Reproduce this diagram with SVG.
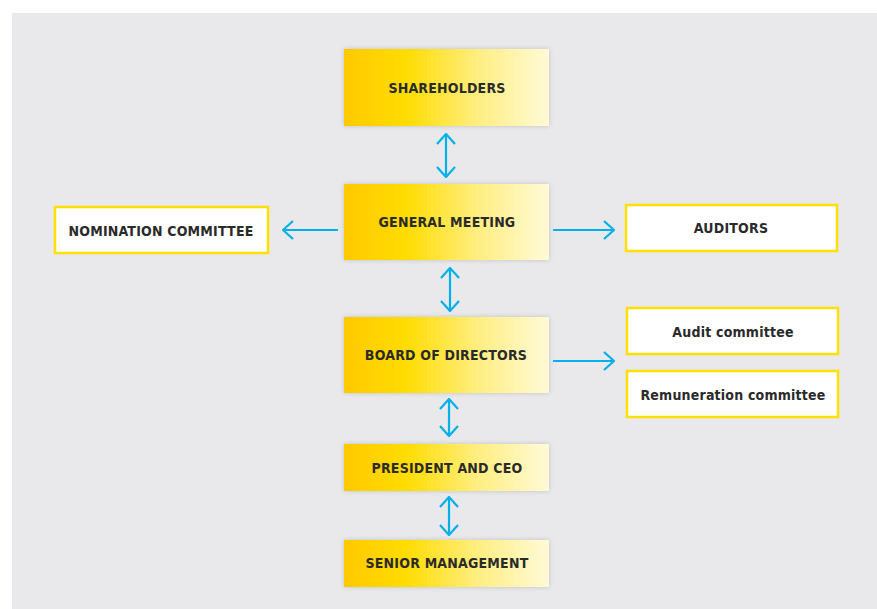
<svg xmlns="http://www.w3.org/2000/svg" width="877" height="609" viewBox="0 0 877 609">
<defs>
<linearGradient id="g" x1="0" y1="0" x2="1" y2="0">
<stop offset="0" stop-color="#ffc900"/>
<stop offset="0.3" stop-color="#ffdc00"/>
<stop offset="0.65" stop-color="#ffee80"/>
<stop offset="1" stop-color="#fffad8"/>
</linearGradient>
<filter id="sh" x="-10%" y="-20%" width="120%" height="140%">
<feGaussianBlur in="SourceAlpha" stdDeviation="2.5"/>
<feComponentTransfer><feFuncA type="linear" slope="0.18"/></feComponentTransfer>
<feMerge><feMergeNode/><feMergeNode in="SourceGraphic"/></feMerge>
</filter>
<marker id="ah" viewBox="0 0 12 20" refX="11" refY="10" markerWidth="12" markerHeight="20" markerUnits="userSpaceOnUse" orient="auto-start-reverse">
<path d="M1 1 L11 10 L1 19" fill="none" stroke="#00b0eb" stroke-width="2.2"/>
</marker>
</defs>
<style>
.y{fill:url(#g);filter:url(#sh)}
.w{fill:#fff;stroke:#ffe000;stroke-width:2.5}
text{font-family:"DejaVu Sans Condensed","DejaVu Sans",sans-serif;font-weight:bold;font-size:14px;fill:#2a2a2a;text-anchor:middle;dominant-baseline:central;letter-spacing:0.2px}
.c line{stroke:#00b0eb;stroke-width:2.2}
</style>
<rect width="877" height="609" fill="#fff"/>
<rect x="12" y="13" width="865" height="596" fill="#e9e9eb"/>
<g id="shareholders"><rect class="y" x="344" y="49" width="205" height="77"/><text x="447" y="88">SHAREHOLDERS</text></g>
<g id="general-meeting"><rect class="y" x="344" y="184" width="205" height="76"/><text x="447" y="222">GENERAL MEETING</text></g>
<g id="board"><rect class="y" x="344" y="317" width="205" height="76"/><text x="446" y="355">BOARD OF DIRECTORS</text></g>
<g id="president"><rect class="y" x="344" y="444" width="205" height="47"/><text x="447" y="468">PRESIDENT AND CEO</text></g>
<g id="senior"><rect class="y" x="344" y="540" width="205" height="47"/><text x="447" y="563">SENIOR MANAGEMENT</text></g>
<g id="nomination"><rect class="w" x="55" y="207" width="213" height="46"/><text x="161" y="231">NOMINATION COMMITTEE</text></g>
<g id="auditors"><rect class="w" x="626" y="205" width="211" height="46"/><text x="731" y="228">AUDITORS</text></g>
<g id="audit-committee"><rect class="w" x="627" y="308" width="211" height="46"/><text x="733" y="332">Audit committee</text></g>
<g id="remuneration"><rect class="w" x="627" y="371" width="211" height="46"/><text x="733" y="395">Remuneration committee</text></g>
<g class="c" id="connectors">
<line x1="446" y1="134" x2="446" y2="177" marker-start="url(#ah)" marker-end="url(#ah)"/>
<line x1="450" y1="268" x2="450" y2="311" marker-start="url(#ah)" marker-end="url(#ah)"/>
<line x1="449" y1="399" x2="449" y2="436" marker-start="url(#ah)" marker-end="url(#ah)"/>
<line x1="449" y1="497" x2="449" y2="535" marker-start="url(#ah)" marker-end="url(#ah)"/>
<line x1="338" y1="230" x2="283" y2="230" marker-end="url(#ah)"/>
<line x1="553" y1="230" x2="614" y2="230" marker-end="url(#ah)"/>
<line x1="553" y1="361" x2="614" y2="361" marker-end="url(#ah)"/>
</g>
</svg>
